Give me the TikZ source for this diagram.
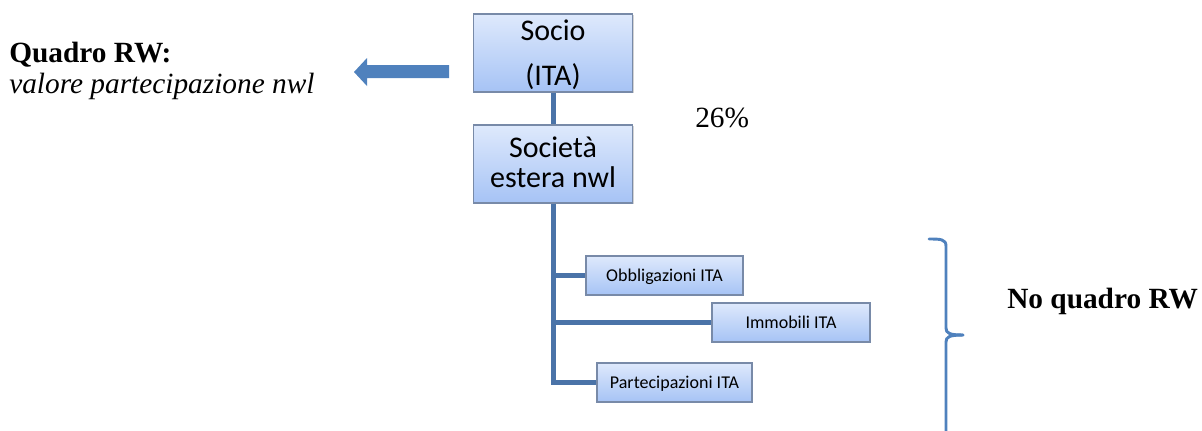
\documentclass[tikz,border=0pt]{standalone}
\usepackage{fontspec}
\setmainfont{Liberation Serif}
\newfontfamily\boxfont{Carlito}
\usetikzlibrary{shadows}
\definecolor{boxtop}{RGB}{222,233,252}
\definecolor{boxbot}{RGB}{166,195,245}
\definecolor{boxline}{RGB}{120,138,168}
\definecolor{conncol}{RGB}{74,115,168}
\definecolor{accent}{RGB}{79,129,189}
\tikzset{
  bigbox/.style={draw=boxline, line width=0.9pt, top color=boxtop, bottom color=boxbot,
    minimum width=119.25pt, minimum height=58.5pt, inner sep=0pt,
    drop shadow={shadow xshift=1pt, shadow yshift=-1pt, opacity=0.35}},
  smallbox/.style={draw=boxline, line width=0.8pt, top color=boxtop, bottom color=boxbot,
    minimum height=29.25pt, inner sep=0pt, font=\boxfont\fontsize{13.5}{15}\selectfont,
    text height=8.7pt, text depth=0pt,
    drop shadow={shadow xshift=1pt, shadow yshift=-1pt, opacity=0.35}},
  boxtext/.style={anchor=base, inner sep=0pt, font=\boxfont\fontsize{22.5}{25}\selectfont},
  bigtext/.style={anchor=base west, inner sep=0pt, font=\fontsize{22}{26}\selectfont},
  conn/.style={draw=conncol, line width=3.75pt},
  brace/.style={draw=accent, line width=2.2pt, line cap=round, line join=round},
}
\begin{document}
\begin{tikzpicture}[x=0.75pt,y=-0.75pt]
\useasboundingbox (0,0) rectangle (1202,430);

% boxes
\node[bigbox] (socio) at (553,53) {};
\node[bigbox] (soc) at (553,164) {};
\node[smallbox, minimum width=117.75pt] (obb) at (664.5,275.5) {Obbligazioni ITA};
\node[smallbox, minimum width=118.5pt] (imm) at (791,322.5) {Immobili ITA};
\node[smallbox, minimum width=116.25pt] (par) at (674.5,382.5) {Partecipazioni ITA};

% box texts
\node[boxtext] (socioA) at (553,40) {Socio};
\node[boxtext] (socioB) at (553,85) {(ITA)};
\node[boxtext] (socA) at (553,157) {Società};
\node[boxtext] (socB) at (553,187) {estera nwl};

% connectors
\draw[conn] (socio.south) -- (soc.north);
\draw[conn] (soc.south) |- (par.west);
\draw[conn] (soc.south |- obb.west) -- (obb.west);
\draw[conn] (soc.south |- imm.west) -- (imm.west);

% labels
\node[bigtext] (pct) at (695,127) {26\%};
\node[bigtext] (qrw) at (9,62) {\textbf{Quadro RW:}};
\node[bigtext] (val) at (9,93) {\textit{valore partecipazione nwl}};
\node[bigtext] (noq) at (1007,308) {\textbf{No quadro RW}};

% block arrow
\fill[accent] (449,65) -- (367,65) -- (367,58) -- (354,72) -- (367,86) -- (367,78) -- (449,78) -- cycle;

% brace
\draw[brace] (929,239) .. controls (940,239) and (946,239) .. (946,246) -- (946,328)
  .. controls (946,333) and (949,335) .. (963,335);
\draw[brace] (963,335) .. controls (949,335) and (946,337) .. (946,342) -- (946,432);
\end{tikzpicture}
\end{document}
